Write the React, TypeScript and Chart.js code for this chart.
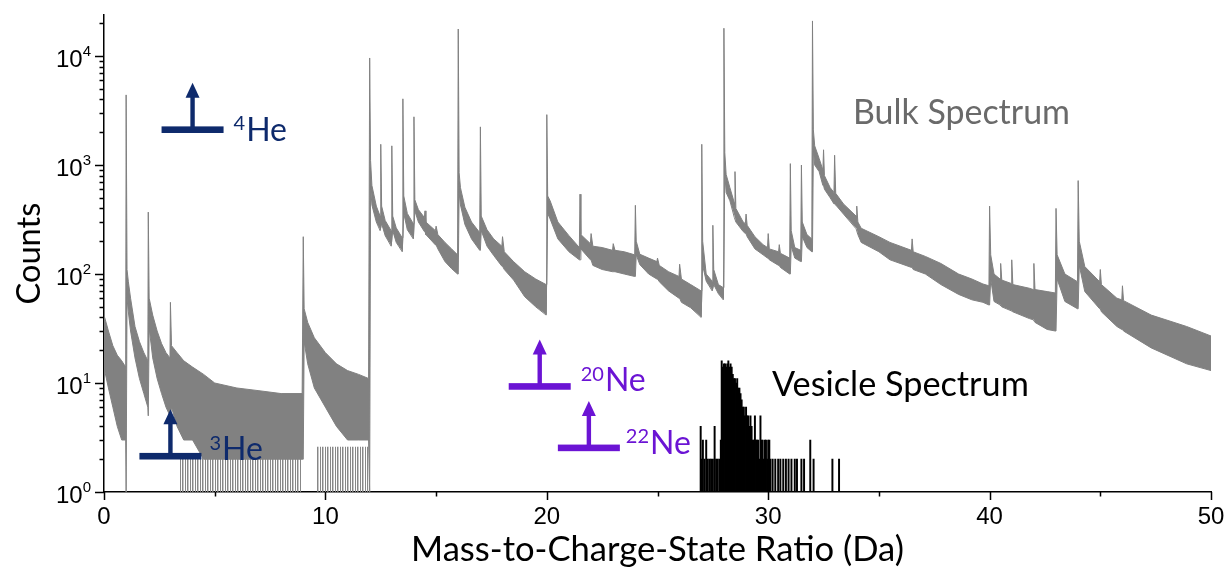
import React, { useEffect, useRef } from 'react';
import { Chart, registerables } from 'chart.js';

Chart.register(...registerables);

// ---------- axis ----------
const X_MIN = 0;
const X_MAX = 50;
const Y_MIN = 1;
const Y_MAX = 23700;
const X_TICK_STEP = 5;
const X_LABEL_STEP = 10;
const Y_LABEL_BASE = '10';

// ---------- bulk spectrum (envelope of the noisy trace, counts) ----------
const bulkMz = [
  0.03, 0.2, 0.4, 0.6, 0.8, 0.98, 1.0, 1.04, 1.1, 1.2, 1.4, 1.6, 1.8, 1.98,
  2.0, 2.04, 2.2, 2.4, 2.6, 2.8, 2.98, 3.0, 3.05, 3.3, 3.6, 4.0, 4.5, 5.0, 6.0, 7.0, 8.0, 8.95,
  9.0, 9.04, 9.2, 9.5, 10.0, 10.5, 11.0, 11.5, 11.95,
  12.0, 12.04, 12.1, 12.3, 12.47, 12.5, 12.54, 12.7, 12.97, 13.0, 13.04, 13.2, 13.47,
  13.5, 13.54, 13.7, 13.97, 14.0, 14.04, 14.2, 14.47, 14.5, 14.54, 14.97, 15.0, 15.08, 15.4, 15.7, 15.97,
  16.0, 16.04, 16.1, 16.3, 16.6, 16.97, 17.0, 17.04, 17.3, 17.6, 17.97, 18.0, 18.08, 18.5, 19.0, 19.5, 19.97,
  20.0, 20.04, 20.15, 20.5, 21.0, 21.47, 21.5, 21.54, 21.97, 22.0, 22.08, 22.5, 22.97, 23.0, 23.08, 23.5, 23.97,
  24.0, 24.04, 24.2, 24.6, 24.97, 25.0, 25.08, 25.5, 25.97, 26.0, 26.08, 26.5, 26.97,
  27.0, 27.04, 27.2, 27.47, 27.5, 27.54, 27.75, 27.97,
  28.0, 28.04, 28.1, 28.27, 28.47, 28.5, 28.54, 28.87, 28.97, 29.0, 29.05, 29.4, 29.77, 29.97,
  30.0, 30.05, 30.47, 30.5, 30.55, 30.97, 31.0, 31.04, 31.2, 31.47, 31.5, 31.54, 31.75, 31.97,
  32.0, 32.04, 32.1, 32.3, 32.47, 32.5, 32.54, 32.8, 32.97, 33.0, 33.05, 33.4, 33.97,
  34.0, 34.05, 34.2, 35.0, 35.5, 36.47, 36.5, 36.55, 37.1, 37.8, 38.6, 39.2, 39.7, 39.97,
  40.0, 40.05, 40.2, 40.47, 40.5, 40.55, 40.97, 41.0, 41.05, 41.8, 41.97, 42.0, 42.05, 42.6, 42.97,
  43.0, 43.05, 43.4, 43.97, 44.0, 44.05, 44.3, 44.97, 45.0, 45.05, 45.75, 45.97,
  46.0, 46.05, 47.3, 48.9, 50.0,
];
const bulkUpper = [
  40, 30, 22, 18, 16, 14, 4400, 110, 85, 60, 33, 24, 19, 16,
  370, 60, 42, 30, 23, 19, 17, 55, 22, 19, 16, 14, 12, 10, 9, 8.5, 8, 8,
  220, 48, 36, 26, 19, 15, 13, 12, 11,
  9600, 1100, 650, 420, 340, 1550, 420, 310, 250, 1500, 340, 265, 215,
  4050, 520, 360, 290, 2770, 480, 390, 330, 380, 300, 250, 275, 230, 195, 170, 150,
  17700, 850, 620, 410, 300, 240, 2240, 340, 255, 210, 180, 220, 160, 130, 105, 90, 80,
  2900, 520, 470, 300, 225, 175, 540, 230, 190, 235, 180, 175, 165, 190, 165, 160, 150,
  427, 200, 152, 140, 130, 140, 120, 105, 95, 123, 90, 80, 70,
  1550, 200, 100, 86, 280, 110, 80, 75,
  18000, 1300, 820, 620, 450, 870, 400, 300, 290, 355, 280, 220, 186, 175,
  235, 170, 160, 186, 155, 140, 1030, 250, 175, 165, 1000, 300, 230, 210,
  21000, 2100, 1500, 1150, 900, 1380, 800, 620, 560, 1230, 550, 440, 340,
  420, 300, 263, 220, 195, 165, 210, 160, 145, 125, 100, 90, 81, 78,
  420, 150, 100, 90, 125, 88, 82, 135, 80, 74, 72, 125, 72, 69, 67,
  400, 150, 100, 85, 720, 200, 117, 85, 110, 80, 60, 58,
  78, 57, 42, 33, 27,
];
const bulkLower = [
  13, 9, 6, 4, 3, 3, 1, 60, 45, 30, 17, 11, 8, 6,
  5, 32, 17, 11, 8, 6, 5, 5, 6, 4, 3, 3, 2, 2, 2, 2, 2, 2,
  2, 24, 15, 9, 6, 4, 3, 3, 3,
  1, 650, 430, 300, 250, 250, 290, 225, 180, 180, 250, 195, 160,
  160, 360, 255, 210, 210, 380, 300, 245, 245, 230, 185, 185, 170, 130, 112, 100,
  100, 560, 430, 285, 210, 165, 165, 250, 180, 148, 118, 118, 110, 88, 62, 50, 42,
  42, 360, 320, 210, 160, 135, 135, 170, 135, 135, 120, 110, 105, 105, 105, 100, 95,
  95, 150, 122, 100, 90, 90, 85, 70, 60, 60, 55, 49, 40,
  40, 120, 86, 70, 70, 80, 66, 58,
  58, 850, 560, 470, 330, 330, 300, 245, 235, 235, 220, 170, 150, 140,
  140, 135, 120, 120, 115, 100, 100, 180, 140, 130, 130, 220, 175, 160,
  160, 1400, 1000, 870, 650, 650, 600, 500, 440, 440, 430, 355, 260,
  260, 230, 195, 160, 135, 115, 115, 110, 100, 80, 65, 58, 55, 52,
  52, 90, 56, 52, 52, 50, 46, 46, 45, 39, 38, 38, 36, 31, 30,
  30, 90, 56, 48, 48, 120, 69, 48, 48, 45, 33, 31,
  31, 30, 21, 15, 13,
];

// sparse single-count spikes reaching the axis
const sparseLeftMz = [3.4, 8.93];
const sparseLeftCounts = [2.2, 2.2];
const sparseRightMz = [9.6, 11.95];
const sparseRightCounts = [2.6, 2.6];

// ---------- vesicle spectrum (counts per bin) ----------
const vesicleMz = [
  26.95, 27.0, 27.05, 27.12, 27.2, 27.27, 27.35, 27.42, 27.5, 27.58, 27.65, 27.72, 27.8, 27.86,
  27.9, 27.95, 28.0, 28.05, 28.1, 28.15, 28.2, 28.25, 28.3, 28.35, 28.4, 28.45, 28.5, 28.55,
  28.6, 28.65, 28.7, 28.75, 28.8, 28.85, 28.9, 28.95, 29.0, 29.05, 29.1, 29.15, 29.2, 29.25,
  29.3, 29.35, 29.4, 29.45, 29.5, 29.55, 29.6, 29.65, 29.7, 29.75, 29.8, 29.85, 29.9, 29.95,
  30.0, 30.05, 30.1, 30.2, 30.32, 30.45, 30.55, 30.68, 30.8, 30.92, 31.05, 31.2, 31.3, 31.5,
  31.62, 31.9, 32.05, 32.9, 33.2,
];
const vesicleCounts = [
  4, 2, 3, 2, 3, 2, 2, 2, 2, 4, 2, 2, 2, 3,
  16, 14, 15, 15, 14, 15, 16, 14, 15, 14, 12, 11, 11, 10,
  11, 9, 9, 8, 7, 6, 6, 5, 6, 5, 5, 4, 5, 4,
  3, 3, 5, 3, 3, 3, 2, 5, 3, 3, 2, 3, 3, 2,
  3, 3, 2, 2, 2, 2, 2, 2, 2, 2, 2, 2, 2, 2,
  2, 3, 2, 2, 2,
];

// ---------- annotations ----------
const markerMz = [4.0, 3.0, 19.68, 21.9];
const markerCounts = [2110, 2.13, 9.3, 2.54];
const markerMass = ['4', '3', '20', '22'];
const markerElement = ['He', 'He', 'Ne', 'Ne'];
const markerColor = ['#0e2a6c', '#0e2a6c', '#6b14d4', '#6b14d4'];
const markerLabelDx = [41, 39, 41, 37];
const markerLabelDy = [11, 4, 5, 6];

const spectrumLabels = ['Bulk Spectrum', 'Vesicle Spectrum'];
const spectrumLabelMz = [33.83, 30.17];
const spectrumLabelCounts = [2400, 7.6];
const spectrumLabelColor = ['#6a6a6a', '#000000'];
const spectrumLabelWidth = [217, 257];

const X_TITLE = 'Mass-to-Charge-State Ratio (Da)';
const Y_TITLE = 'Counts';

const GRAY = '#818181';
const TEXT_FONT = 'Lato, "Open Sans", sans-serif';
const TICK_FONT = '"Liberation Sans", Arial, sans-serif';

function fitFontSize(text: string, family: string, target: number): number {
  const c = document.createElement('canvas').getContext('2d')!;
  c.font = `100px ${family}`;
  const w = c.measureText(text).width;
  return w > 0 ? (100 * target) / w : 30;
}

function stripePattern(): CanvasPattern | string {
  const pc = document.createElement('canvas');
  pc.width = 5;
  pc.height = 4;
  const p = pc.getContext('2d');
  if (!p) return GRAY;
  p.fillStyle = 'rgba(129,129,129,0.95)';
  p.fillRect(0, 0, 1, 4);
  p.fillRect(2, 0, 1, 4);
  p.fillStyle = 'rgba(129,129,129,0.45)';
  p.fillRect(3, 0, 1, 4);
  return p.createPattern(pc, 'repeat') || GRAY;
}

const pts = (xs: number[], ys: number[]) => xs.map((x, i) => ({ x, y: ys[i] }));

const axisTicksPlugin = {
  id: 'axisTicks',
  afterDraw(chart: any) {
    const { ctx, chartArea } = chart;
    const xs = chart.scales.x;
    const ys = chart.scales.y;
    ctx.save();
    ctx.strokeStyle = '#000';
    ctx.lineWidth = 1.5;
    ctx.beginPath();
    const majors: number[] = [];
    for (const t of ys.ticks) {
      const v = t.value;
      if (v < Y_MIN || v > Y_MAX) continue;
      const e = Math.floor(Math.log10(v) + 1e-9);
      const sig = v / Math.pow(10, e);
      if (Math.abs(sig - Math.round(sig)) > 1e-6) continue;
      const major = Math.round(sig) === 1;
      if (major) majors.push(e);
      const py = Math.round(ys.getPixelForValue(v)) + 0.5;
      ctx.moveTo(chartArea.left - (major ? 9 : 4.5), py);
      ctx.lineTo(chartArea.left, py);
    }
    for (const t of xs.ticks) {
      const v = t.value;
      const major = Math.abs(v % X_LABEL_STEP) < 1e-9;
      const px = Math.round(xs.getPixelForValue(v)) + 0.5;
      ctx.moveTo(px, chartArea.bottom);
      ctx.lineTo(px, chartArea.bottom + (major ? 8 : 4.5));
    }
    ctx.stroke();
    // y tick labels as 10 with raised exponent
    ctx.fillStyle = '#000';
    ctx.textBaseline = 'alphabetic';
    ctx.textAlign = 'right';
    for (const e of majors) {
      const py = ys.getPixelForValue(Math.pow(10, e));
      const right = chartArea.left - 13;
      ctx.font = `15px ${TICK_FONT}`;
      const exp = String(e);
      const ew = ctx.measureText(exp).width;
      ctx.fillText(exp, right, py - 0.5);
      ctx.font = `24px ${TICK_FONT}`;
      ctx.fillText(Y_LABEL_BASE, right - ew, py + 10.5);
    }
    ctx.restore();
  },
};

const annotationPlugin = {
  id: 'specAnnotations',
  afterDatasetsDraw(chart: any) {
    const { ctx } = chart;
    const xs = chart.scales.x;
    const ys = chart.scales.y;
    ctx.save();
    const mainSize = 32;
    const supSize = 20;
    for (let i = 0; i < markerMz.length; i++) {
      const px = xs.getPixelForValue(markerMz[i]);
      const py = ys.getPixelForValue(markerCounts[i]);
      ctx.fillStyle = markerColor[i];
      ctx.fillRect(px - 31, py - 3.3, 62, 6.6);
      ctx.fillRect(px - 2.2, py - 34, 4.4, 34);
      ctx.beginPath();
      ctx.moveTo(px, py - 47);
      ctx.lineTo(px - 7, py - 32);
      ctx.lineTo(px + 7, py - 32);
      ctx.closePath();
      ctx.fill();
      const lx = px + markerLabelDx[i];
      const ly = py + markerLabelDy[i];
      ctx.textBaseline = 'alphabetic';
      ctx.textAlign = 'left';
      ctx.font = `${supSize}px ${TEXT_FONT}`;
      ctx.fillText(markerMass[i], lx, ly - 10.5);
      const sw = ctx.measureText(markerMass[i]).width;
      ctx.font = `${mainSize}px ${TEXT_FONT}`;
      ctx.fillText(markerElement[i], lx + sw + 1, ly);
    }
    for (let i = 0; i < spectrumLabels.length; i++) {
      const px = xs.getPixelForValue(spectrumLabelMz[i]);
      const py = ys.getPixelForValue(spectrumLabelCounts[i]);
      const size = fitFontSize(spectrumLabels[i], TEXT_FONT, spectrumLabelWidth[i]);
      ctx.font = `${size}px ${TEXT_FONT}`;
      ctx.fillStyle = spectrumLabelColor[i];
      ctx.textBaseline = 'alphabetic';
      ctx.textAlign = 'left';
      ctx.fillText(spectrumLabels[i], px, py);
    }
    ctx.restore();
  },
};

export default function App() {
  const canvasRef = useRef<HTMLCanvasElement | null>(null);

  useEffect(() => {
    if (!canvasRef.current) return;
    const xTitleSize = fitFontSize(X_TITLE, TEXT_FONT, 493);
    const yTitleSize = fitFontSize(Y_TITLE, TEXT_FONT, 102);
    const stripes = stripePattern();

    const chart = new Chart(canvasRef.current, {
      type: 'line',
      data: {
        datasets: [
          {
            label: 'Bulk upper',
            data: pts(bulkMz, bulkUpper),
            borderColor: GRAY,
            backgroundColor: GRAY,
            borderWidth: 1,
            pointRadius: 0,
            fill: 1,
            order: 1,
          } as any,
          {
            label: 'Bulk lower',
            data: pts(bulkMz, bulkLower),
            borderColor: GRAY,
            borderWidth: 1,
            pointRadius: 0,
            fill: false,
            order: 1,
          },
          {
            label: 'Sparse left',
            data: pts(sparseLeftMz, sparseLeftCounts),
            borderWidth: 0,
            borderColor: 'rgba(0,0,0,0)',
            backgroundColor: stripes,
            pointRadius: 0,
            fill: 'start',
            order: 2,
          } as any,
          {
            label: 'Sparse right',
            data: pts(sparseRightMz, sparseRightCounts),
            borderWidth: 0,
            borderColor: 'rgba(0,0,0,0)',
            backgroundColor: stripes,
            pointRadius: 0,
            fill: 'start',
            order: 2,
          } as any,
          {
            type: 'bar',
            label: 'Vesicle',
            data: pts(vesicleMz, vesicleCounts),
            backgroundColor: '#000',
            borderWidth: 0,
            barThickness: 1.3,
            order: 0,
          } as any,
        ],
      },
      options: {
        responsive: false,
        animation: false,
        events: [],
        layout: { padding: { left: 0, right: 17, top: 13, bottom: 0 } },
        plugins: { legend: { display: false }, tooltip: { enabled: false } },
        scales: {
          x: {
            type: 'linear',
            min: X_MIN,
            max: X_MAX,
            offset: false,
            afterFit: (s: any) => { s.height = 85; },
            grid: { display: true, drawOnChartArea: false, drawTicks: true, tickLength: 8, tickColor: 'rgba(0,0,0,0)', offset: false },
            border: { display: true, color: '#000', width: 1.5 },
            ticks: {
              stepSize: X_TICK_STEP,
              autoSkip: false,
              maxRotation: 0,
              padding: 3,
              color: '#000',
              font: { family: TICK_FONT, size: 24 },
              callback: (v: any) => (Math.abs(Number(v) % X_LABEL_STEP) < 1e-9 ? String(v) : ''),
            },
            title: {
              display: true,
              text: X_TITLE,
              color: '#000',
              font: { family: TEXT_FONT, size: xTitleSize },
              padding: { top: 0, bottom: 6 },
            },
          },
          y: {
            type: 'logarithmic',
            min: Y_MIN,
            max: Y_MAX,
            afterFit: (s: any) => { s.width = 104; },
            grid: { display: true, drawOnChartArea: false, drawTicks: true, tickLength: 9, tickColor: 'rgba(0,0,0,0)' },
            border: { display: true, color: '#000', width: 1.5 },
            ticks: {
              autoSkip: false,
              padding: 2,
              color: 'rgba(0,0,0,0)',
              font: { family: TICK_FONT, size: 22 },
              callback: (v: any) => {
                const l = Math.log10(Number(v));
                return Math.abs(l - Math.round(l)) < 1e-9 ? Y_LABEL_BASE + String(Math.round(l)) : '';
              },
            },
            title: {
              display: true,
              text: Y_TITLE,
              color: '#000',
              font: { family: TEXT_FONT, size: yTitleSize },
              padding: { top: 10, bottom: 0 },
            },
          },
        },
      },
      plugins: [annotationPlugin, axisTicksPlugin],
    });
    return () => chart.destroy();
  }, []);

  return (
    <div style={{ position: 'absolute', left: 0, top: 0, width: 1228, height: 577, background: '#fff' }}>
      <canvas ref={canvasRef} width={1228} height={577} style={{ display: 'block' }} />
    </div>
  );
}
